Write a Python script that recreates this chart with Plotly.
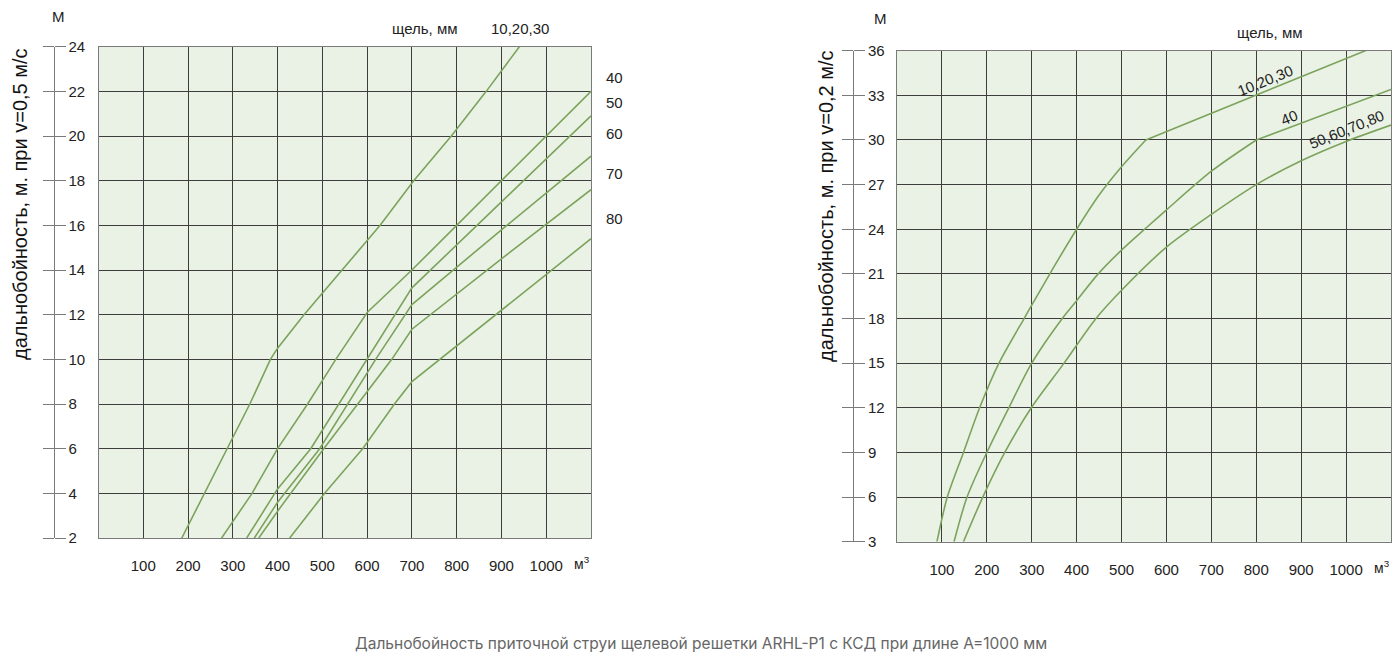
import plotly.graph_objects as go

# ---- data: left chart (v = 0.5 m/s), x = м³, y = м ----
l_x_10_30 = [186, 237, 287, 338, 384, 400, 459, 545, 629, 704, 788, 866, 940]
l_y_10_30 = [2, 4, 6, 8, 10, 10.5, 12, 14, 16, 18, 20, 22, 24]

l_x_40 = [275, 343, 400, 467, 530, 600, 700, 800, 900, 1000, 1100]
l_y_40 = [2, 4, 6, 8, 10, 12.1, 14, 16, 18, 20, 22]

l_x_50 = [331, 400, 474, 599, 700, 900, 1100]
l_y_50 = [2, 4.2, 6, 10, 13.2, 17.05, 20.9]

l_x_60 = [348, 400, 494, 619, 700, 900, 1100]
l_y_60 = [2, 3.6, 6, 10, 12.45, 15.8, 19.1]

l_x_70 = [358, 400, 503, 655, 700, 900, 1100]
l_y_70 = [2, 3.2, 6, 10, 11.35, 14.5, 17.6]

l_x_80 = [427, 505, 590, 661, 700, 900, 1100]
l_y_80 = [2, 4, 6, 8, 9.0, 12.2, 15.4]

left_labels = ["40", "50", "60", "70", "80"]
left_label_y = [22.6, 21.5, 20.1, 18.3, 16.3]

# ---- data: right chart (v = 0.2 m/s) ----
r_x_10_30 = [89, 112, 148, 184, 227, 283, 300, 350, 400, 450, 500, 554, 800, 1100]
r_y_10_30 = [3, 6, 9, 12, 15, 18, 18.9, 21.5, 24, 26.3, 28.2, 30, 33, 36.7]

r_x_40 = [127, 156, 200, 249, 300, 368, 400, 448, 500, 555, 600, 700, 800, 1100]
r_y_40 = [3, 6, 9, 12, 15, 18, 19.2, 21, 22.6, 24.1, 25.3, 27.9, 30, 33.4]

r_x_50_80 = [148, 191, 240, 299, 372, 443, 500, 600, 700, 800, 900, 1000, 1100]
r_y_50_80 = [3, 6, 9, 12, 15, 18, 19.9, 22.8, 25.0, 27, 28.6, 29.9, 31.0]

# x of the break point where a right-chart curve turns into a straight line
r_kinks = [554, 800, None]

x_ticks = [100, 200, 300, 400, 500, 600, 700, 800, 900, 1000]

LINE = "#7ba35c"
BG = "#eaf2e6"
GRID = "#3d3d3d"
AXC = "#7a7a7a"
FONT = "Liberation Sans, Arial, sans-serif"

# the page body has an 8px margin, so the figure is a bit smaller than the window
OFF = 8
W, H = 1400 - 2 * OFF, 664 - 2 * OFF


def px(x):
    return (x - OFF) / W


def py(y):
    return (H - (y - OFF)) / H


def add_line(xs, ys, xa, ya, shape="linear"):
    fig.add_trace(go.Scatter(x=xs, y=ys, mode="lines", xaxis=xa, yaxis=ya,
                             line=dict(color=LINE, width=1.6, shape=shape, smoothing=0.8),
                             showlegend=False, hoverinfo="skip"))


fig = go.Figure()

left_series = [(l_x_10_30, l_y_10_30), (l_x_40, l_y_40), (l_x_50, l_y_50),
               (l_x_60, l_y_60), (l_x_70, l_y_70), (l_x_80, l_y_80)]
for xs, ys in left_series:
    add_line(xs, ys, "x", "y")

right_series = [(r_x_10_30, r_y_10_30), (r_x_40, r_y_40), (r_x_50_80, r_y_50_80)]
for (xs, ys), k in zip(right_series, r_kinks):
    if k is None:
        add_line(xs, ys, "x2", "y2", "spline")
    else:
        i = xs.index(k)
        add_line(xs[:i + 1], ys[:i + 1], "x2", "y2", "spline")
        add_line(xs[i:], ys[i:], "x2", "y2")

# empty traces so the detached tick axes get drawn
for xa, ya in [("x", "y3"), ("x", "y5"), ("x2", "y4"), ("x2", "y6")]:
    fig.add_trace(go.Scatter(x=[None], y=[None], mode="lines", xaxis=xa, yaxis=ya,
                             showlegend=False, hoverinfo="skip"))

tickfont = dict(family=FONT, size=15, color="#222")

xcommon = dict(range=[0, 1100], tickvals=x_ticks, showgrid=True, gridcolor=GRID,
               gridwidth=1, showline=True, mirror=True, linecolor=AXC, linewidth=1,
               ticks="", ticklabelstandoff=14, tickfont=tickfont, zeroline=False,
               automargin=False, fixedrange=True)
ycommon = dict(showgrid=True, gridcolor=GRID, gridwidth=1, showline=True, mirror=True,
               linecolor=AXC, linewidth=1, showticklabels=False, ticks="",
               zeroline=False, automargin=False, fixedrange=True)
ylab = dict(anchor="free", side="right", showline=True, linecolor=AXC, linewidth=1,
            ticks="outside", ticklen=11, tickcolor=AXC, tickwidth=1, showgrid=False,
            zeroline=False, tickfont=tickfont, automargin=False, fixedrange=True)
ytk = dict(anchor="free", side="left", showline=False, ticks="outside", ticklen=11,
           tickcolor=AXC, tickwidth=1, showgrid=False, zeroline=False,
           showticklabels=False, automargin=False, fixedrange=True)

fig.update_layout(
    width=W, height=H,
    margin=dict(l=0, r=0, t=0, b=0),
    paper_bgcolor="white",
    plot_bgcolor=BG,
    xaxis=dict(domain=[px(98.5), px(591)], anchor="y", **xcommon),
    yaxis=dict(domain=[py(538), py(46.7)], anchor="x", range=[2, 24], dtick=2, **ycommon),
    xaxis2=dict(domain=[px(897), px(1391)], anchor="y2", **xcommon),
    yaxis2=dict(domain=[py(541.7), py(50.7)], anchor="x2", range=[3, 36], dtick=3, **ycommon),
    yaxis3=dict(overlaying="y", position=px(53.5), range=[2, 24], dtick=2, **ylab),
    yaxis5=dict(overlaying="y", position=px(53.5), range=[2, 24], dtick=2, **ytk),
    yaxis4=dict(overlaying="y2", position=px(853), range=[3, 36], dtick=3, **ylab),
    yaxis6=dict(overlaying="y2", position=px(853), range=[3, 36], dtick=3, **ytk),
)

ann = []
txt = dict(family=FONT, size=15, color="#222")
C = dict(xanchor="center", yanchor="middle", showarrow=False)

# axis titles (rotated)
ann.append(dict(text="дальнобойность, м. при v=0,5 м/с", x=px(20), y=py(204),
                xref="paper", yref="paper", textangle=-90,
                font=dict(family=FONT, size=20, color="#111"), **C))
ann.append(dict(text="дальнобойность, м. при v=0,2 м/с", x=px(826), y=py(206),
                xref="paper", yref="paper", textangle=-90,
                font=dict(family=FONT, size=20, color="#111"), **C))

# "М" units above axes
ann.append(dict(text="М", x=px(58), y=py(16), xref="paper", yref="paper", font=txt, **C))
ann.append(dict(text="М", x=px(880), y=py(19), xref="paper", yref="paper", font=txt, **C))

# м³ on x axes
ann.append(dict(text="м<sup>3</sup>", x=1080, y=py(563), xref="x", yref="paper",
                font=dict(family=FONT, size=14, color="#222"), **C))
ann.append(dict(text="м<sup>3</sup>", x=1080, y=py(567), xref="x2", yref="paper",
                font=dict(family=FONT, size=14, color="#222"), **C))

# slot width headers
ann.append(dict(text="щель, мм", x=px(425), y=py(28), xref="paper", yref="paper", font=txt, **C))
ann.append(dict(text="10,20,30", x=px(520), y=py(28), xref="paper", yref="paper", font=txt, **C))
ann.append(dict(text="щель, мм", x=px(1270), y=py(32), xref="paper", yref="paper", font=txt, **C))

# left curve labels, to the right of the plot area (y in data units of the left axis)
y0, y1 = 538, 46.7
for t, yv in zip(left_labels, left_label_y):
    ypx = y0 - (yv - 2) / (24 - 2) * (y0 - y1)
    ann.append(dict(text=t, x=px(614), y=py(ypx), xref="paper", yref="paper", font=txt, **C))

# right curve labels (rotated along the curves)
ann.append(dict(text="10,20,30", x=820, y=34.0, xref="x2", yref="y2", textangle=-22,
                font=txt, **C))
ann.append(dict(text="40", x=873, y=31.5, xref="x2", yref="y2", textangle=-22,
                font=txt, **C))
ann.append(dict(text="50,60,70,80", x=1000, y=30.7, xref="x2", yref="y2", textangle=-22,
                font=txt, **C))

# caption
ann.append(dict(text="Дальнобойность приточной струи щелевой решетки ARHL-P1 с КСД при длине А=1000 мм",
                x=px(701), y=py(643), xref="paper", yref="paper",
                font=dict(family="Inter, Noto Sans, sans-serif", size=15.5, color="#666666"), **C))

fig.update_layout(annotations=ann)

fig.write_html("out.html")
